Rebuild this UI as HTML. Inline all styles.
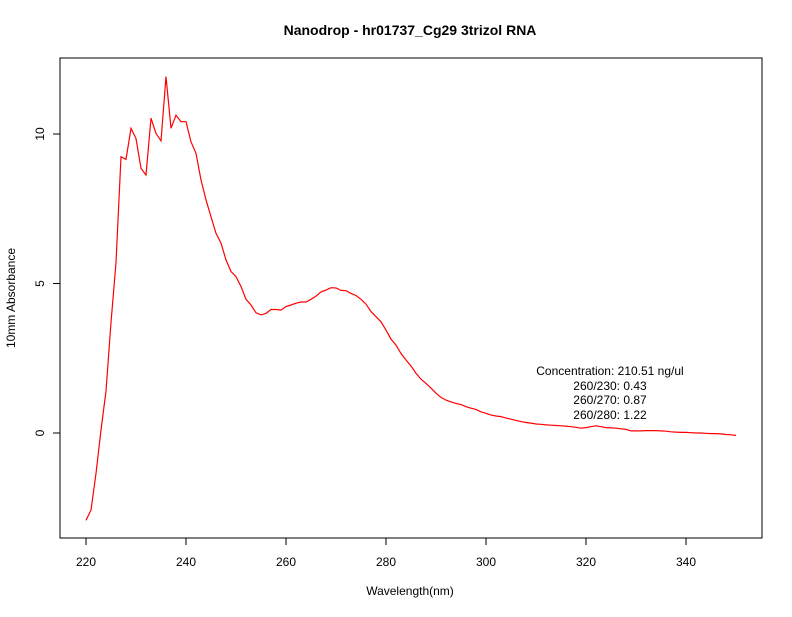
<!DOCTYPE html>
<html><head><meta charset="utf-8"><style>
body{margin:0;background:#fff}
svg text{font-family:"Liberation Sans",sans-serif;fill:#000}
</style></head><body>
<svg id="chart" width="792" height="612" xmlns="http://www.w3.org/2000/svg">
<text x="410" y="35" text-anchor="middle" font-size="14" font-weight="bold">Nanodrop - hr01737_Cg29 3trizol RNA</text>
<rect x="60" y="58" width="702" height="480" fill="none" stroke="#000" stroke-width="1"/>
<g id="xaxis"></g>
<g id="yaxis"></g>
<text x="410" y="595" text-anchor="middle" font-size="12">Wavelength(nm)</text>
<text transform="translate(15,298) rotate(-90)" text-anchor="middle" font-size="12">10mm Absorbance</text>
<g font-size="12" text-anchor="middle">
<text x="610" y="375">Concentration: 210.51 ng/ul</text>
<text x="610" y="390">260/230: 0.43</text>
<text x="610" y="404">260/270: 0.87</text>
<text x="610" y="419">260/280: 1.22</text>
</g>
<polyline id="line" fill="none" stroke="#ff0000" stroke-width="1.2"/>
</svg>
<script>
const startNm = 220;
const absorbance = [-2.92,-2.58,-1.35,0.1,1.4,3.7,5.7,9.24,9.15,10.19,9.85,8.85,8.63,10.53,10.02,9.77,11.92,10.19,10.63,10.41,10.41,9.74,9.35,8.46,7.8,7.23,6.68,6.35,5.79,5.4,5.23,4.9,4.47,4.28,4.02,3.95,4.0,4.13,4.13,4.11,4.23,4.28,4.34,4.38,4.38,4.47,4.58,4.72,4.78,4.86,4.85,4.77,4.76,4.67,4.6,4.47,4.31,4.06,3.89,3.72,3.44,3.14,2.94,2.66,2.44,2.24,2.0,1.8,1.66,1.5,1.33,1.19,1.1,1.04,0.99,0.95,0.88,0.83,0.79,0.71,0.66,0.6,0.57,0.55,0.5,0.46,0.42,0.38,0.35,0.33,0.3,0.29,0.27,0.26,0.25,0.24,0.23,0.21,0.19,0.16,0.18,0.21,0.24,0.21,0.18,0.17,0.16,0.14,0.12,0.07,0.07,0.07,0.08,0.08,0.08,0.07,0.06,0.04,0.03,0.02,0.02,0.01,0.0,0.0,-0.01,-0.02,-0.02,-0.03,-0.05,-0.06,-0.08];
const xTicks = [220,240,260,280,300,320,340];
const yTicks = [0,5,10];
const X = v => 86 + (v - 220) * 5;
const Y = v => 433 - v * 29.9;
const NS = "http://www.w3.org/2000/svg";
const line = document.getElementById('line');
line.setAttribute('points', absorbance.map((a,i)=>X(startNm+i).toFixed(1)+','+Y(a).toFixed(1)).join(' '));
const xa = document.getElementById('xaxis');
const ya = document.getElementById('yaxis');
function mk(tag, attrs, parent){const e=document.createElementNS(NS,tag);for(const k in attrs)e.setAttribute(k,attrs[k]);parent.appendChild(e);return e;}
xTicks.forEach(t=>{
  const l=mk('line',{x1:X(t),x2:X(t),y1:538,y2:545,stroke:'#000'},xa);
  
  
  const tx=mk('text',{x:X(t),y:566,'text-anchor':'middle','font-size':12},xa);
  tx.textContent=t;
  
  
});
yTicks.forEach(t=>{
  const l=mk('line',{x1:53,x2:60,y1:Y(t),y2:Y(t),stroke:'#000'},ya);
  
  
  const tx=mk('text',{transform:`translate(44,${Y(t)}) rotate(-90)`,'text-anchor':'middle','font-size':12},ya);
  tx.textContent=t;
  
  
});
</script>
</body></html>
